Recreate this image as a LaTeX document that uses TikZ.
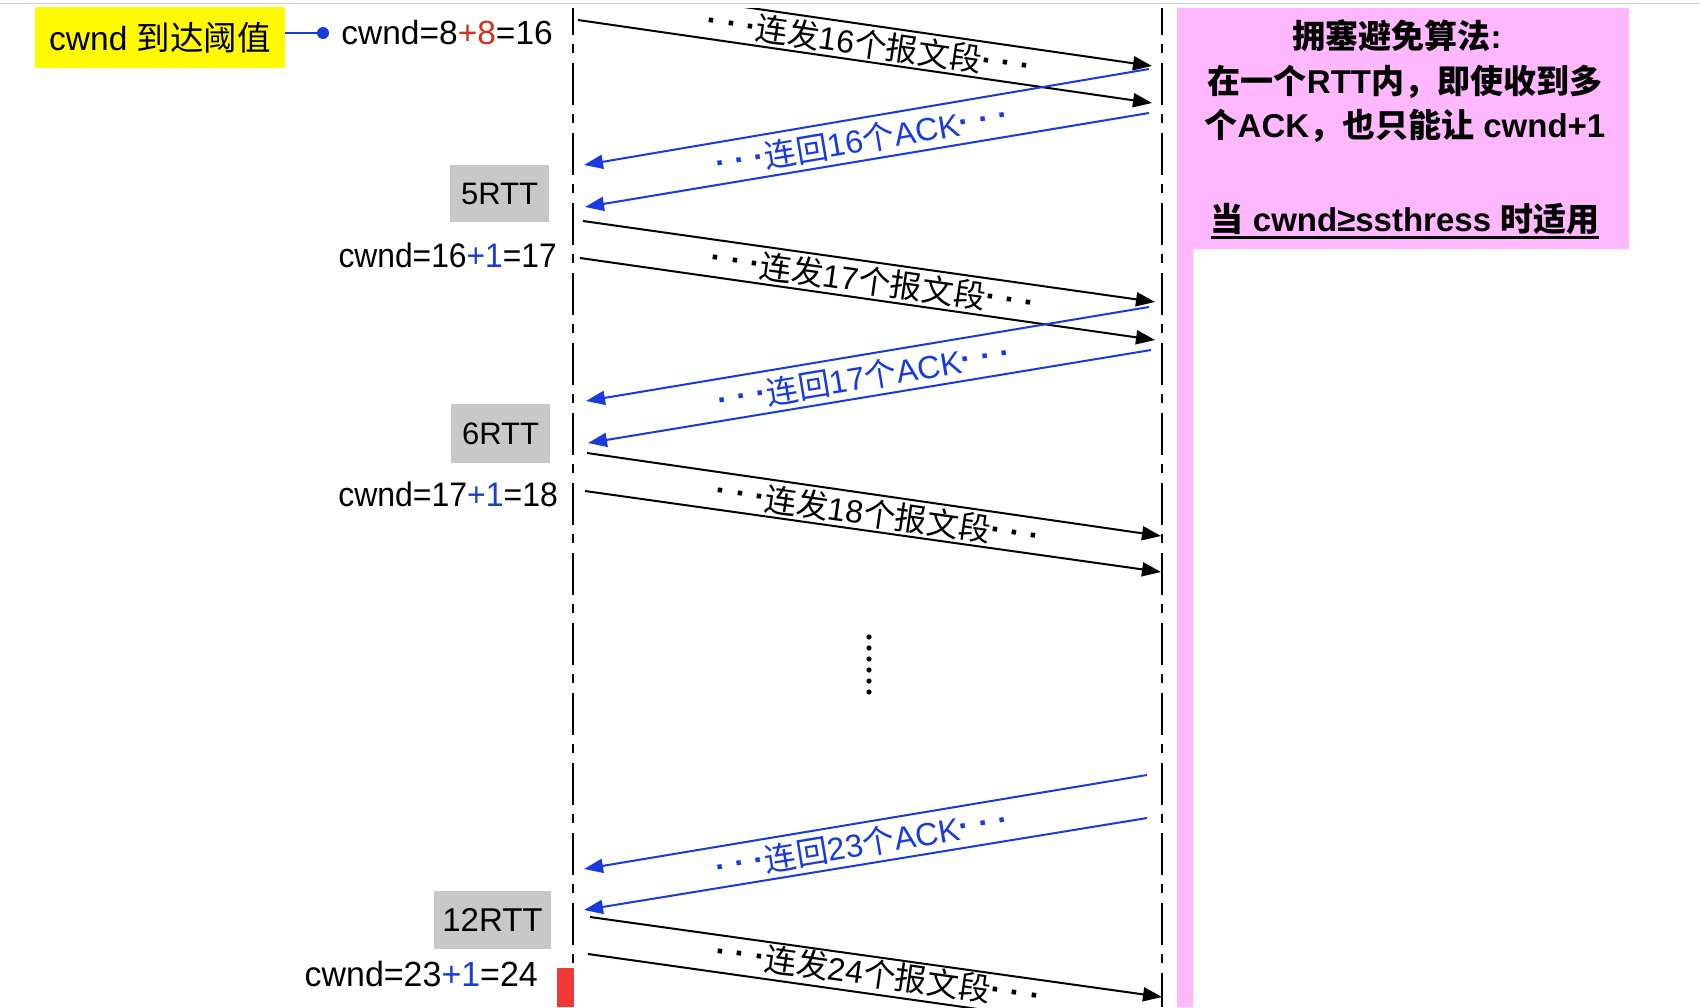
\documentclass[tikz,border=0pt]{standalone}
\usepackage{fontspec}
\setmainfont{Liberation Sans}
\newfontfamily\cjk{Noto Sans CJK SC}
\usetikzlibrary{arrows.meta,calc}
\definecolor{ackblue}{RGB}{24,58,222}
\definecolor{plusred}{RGB}{215,48,30}
\definecolor{plusblue}{RGB}{25,62,215}
\definecolor{rttgray}{RGB}{200,200,200}
\definecolor{notepink}{RGB}{255,184,253}
\definecolor{hlyellow}{RGB}{255,250,0}
\definecolor{barred}{RGB}{240,56,56}
\definecolor{topgray}{RGB}{205,205,205}
\newcommand{\zhs}[1]{{\cjk #1}}
\newcommand{\mydots}{\raisebox{0.07em}{\bfseries·\ ·\ ·}}
\newcommand{\fsz}[1]{\fontsize{#1}{#1}\selectfont}
\tikzset{
  lifeline/.style={line width=2.6pt, dash pattern=on 42pt off 9pt on 9pt off 10pt, dash phase=15pt},
  seg/.style={line width=2pt, -{Triangle[length=19pt,width=14pt]}},
  ack/.style={ackblue, line width=2pt, -{Triangle[length=19pt,width=14pt]}},
  lbl/.style={font=\fsz{32}, inner sep=0pt},
  acklbl/.style={lbl, text=ackblue},
  rttbox/.style={fill=rttgray, font=\fsz{31}, inner sep=0pt},
  cwndlbl/.style={inner sep=0pt, anchor=east},
  note/.style={font={\fsz{33}\bfseries}, inner sep=0pt}
}
\begin{document}
\begin{tikzpicture}[x=1pt,y=-1pt]
\useasboundingbox (0,0) rectangle (1700,1007);
\fill[white] (0,0) rectangle (1700,1007);
\draw[topgray, line width=1.5pt] (0,3.5) -- (1700,3.5);

% pink note area
\fill[notepink] (1177,8) -- (1629,8) -- (1629,249) -- (1193,249) -- (1193,1007) -- (1177,1007) -- cycle;
\node[note] (n1) at (1397,36) {\zhs{拥塞避免算法}:};
\node[note] (n2) at (1405,82) {\zhs{在一个}RTT\zhs{内，即使收到多}};
\node[note] (n3) at (1405,126) {\zhs{个}ACK\zhs{，也只能让} cwnd+1};
\node[note] (n4) at (1405,219) {\zhs{当} cwnd≥ssthress \zhs{时适用}};
\draw[line width=3pt] ($(n4.base west)+(0,6)$) -- ($(n4.base east)+(0,6)$);

% lifelines
\coordinate (LT) at (573,8);
\coordinate (LB) at (573,1007);
\coordinate (RT) at (1162,8);
\coordinate (RB) at (1162,1007);
\draw[lifeline] (LT) -- (LB);
\draw[lifeline] (RT) -- (RB);

% threshold marker
\node[fill=hlyellow, minimum width=250pt, minimum height=61pt, inner sep=0pt, font=\fsz{33.5}] (yel) at (160,37.5) {cwnd \zhs{到达阈值}};
\node[circle, fill=ackblue, minimum size=12pt, inner sep=0pt] (dot) at (323,33) {};
\draw[ackblue, line width=2pt] (yel.east |- dot) -- (dot);

% cwnd labels
\node[cwndlbl, font=\fsz{33.5}] (c1) at (553,33) {cwnd=8\textcolor{plusred}{+8}=16};
\node[cwndlbl, font=\fsz{34}, xscale=0.935] (c2) at (557,255) {cwnd=16\textcolor{plusblue}{+1}=17};
\node[cwndlbl, font=\fsz{34}, xscale=0.94] (c3) at (558,494) {cwnd=17\textcolor{plusblue}{+1}=18};
\node[cwndlbl, font=\fsz{35}, xscale=0.97] (c4) at (538,974) {cwnd=23\textcolor{plusblue}{+1}=24};

% RTT boxes
\node[rttbox, minimum width=99pt, minimum height=57pt] (r5) at (499.5,193.5) {5RTT};
\node[rttbox, minimum width=99pt, minimum height=59pt] (r6) at (500.5,433.5) {6RTT};
\node[rttbox, minimum width=117pt, minimum height=58pt, font=\fsz{33}] (r12) at (492.5,920) {12RTT};

% arrow end points
\coordinate (A1s) at (578,-17);  \coordinate (A1e) at (1152,66);
\coordinate (A2s) at (578,20);   \coordinate (A2e) at (1152,103);
\coordinate (B1s) at (1149,69);  \coordinate (B1e) at (584,165);
\coordinate (B2s) at (1149,113); \coordinate (B2e) at (585,207);
\coordinate (C1s) at (583,221);  \coordinate (C1e) at (1155,302);
\coordinate (C2s) at (580,258);  \coordinate (C2e) at (1155,340);
\coordinate (D1s) at (1149,307); \coordinate (D1e) at (586,401);
\coordinate (D2s) at (1151,350); \coordinate (D2e) at (588,443);
\coordinate (E1s) at (587,453);  \coordinate (E1e) at (1161,536);
\coordinate (E2s) at (585,491);  \coordinate (E2e) at (1161,572);
\coordinate (F1s) at (1147,775); \coordinate (F1e) at (584,869);
\coordinate (F2s) at (1147,818); \coordinate (F2e) at (584,910);
\coordinate (G1s) at (590,917);  \coordinate (G1e) at (1162,997);
\coordinate (G2s) at (588,954);  \coordinate (G2e) at (1162,1035);

\begin{scope}
\clip (0,8) rectangle (1700,1007);
\draw[seg] (A1s) -- (A1e);
\draw[seg] (A2s) -- (A2e);
\draw[ack] (B1s) -- (B1e);
\draw[ack] (B2s) -- (B2e);
\draw[seg] (C1s) -- (C1e);
\draw[seg] (C2s) -- (C2e);
\draw[ack] (D1s) -- (D1e);
\draw[ack] (D2s) -- (D2e);
\draw[seg] (E1s) -- (E1e);
\draw[seg] (E2s) -- (E2e);
\draw[ack] (F1s) -- (F1e);
\draw[ack] (F2s) -- (F2e);
\draw[seg] (G1s) -- (G1e);
\draw[seg] (G2s) -- (G2e);
\end{scope}

% arrow labels
\node[lbl, rotate=-8.2] (L1) at (869,44) {\mydots\zhs{连发}16\zhs{个报文段}\mydots};
\node[acklbl, rotate=9.6] (L2) at (862,140) {\mydots\zhs{连回}16\zhs{个}ACK\mydots};
\node[lbl, rotate=-8.1] (L3) at (873,281) {\mydots\zhs{连发}17\zhs{个报文段}\mydots};
\node[acklbl, rotate=9.4] (L4) at (864,377) {\mydots\zhs{连回}17\zhs{个}ACK\mydots};
\node[lbl, rotate=-8.1] (L5) at (878,514) {\mydots\zhs{连发}18\zhs{个报文段}\mydots};
\node[acklbl, rotate=9.4] (L6) at (862,844) {\mydots\zhs{连回}23\zhs{个}ACK\mydots};
\node[lbl, rotate=-8.0] (L7) at (878,974) {\mydots\zhs{连发}24\zhs{个报文段}\mydots};

% vertical ellipsis
\foreach \k in {0,...,5} \fill (869,{637+11*\k}) circle (2.6pt);

% red bar
\fill[barred] (557,968) rectangle (574,1007);
\end{tikzpicture}
\end{document}
